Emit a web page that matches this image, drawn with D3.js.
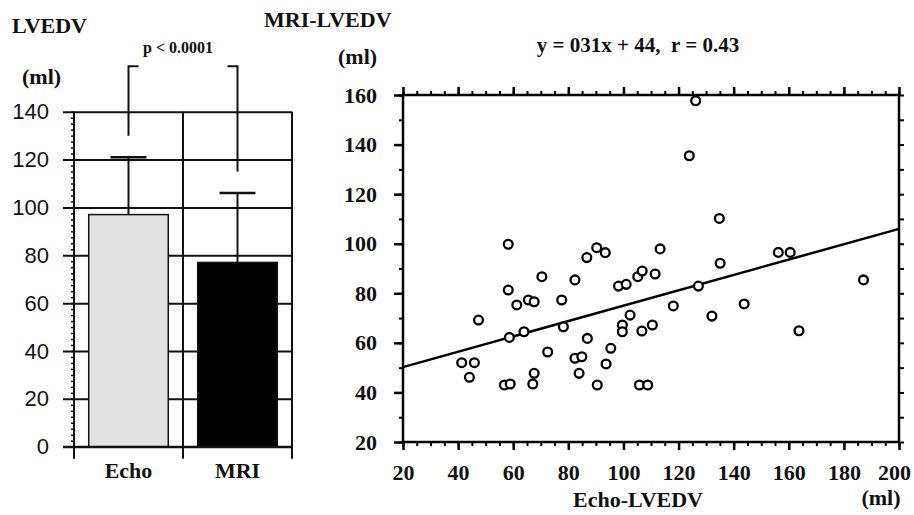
<!DOCTYPE html>
<html>
<head>
<meta charset="utf-8">
<script src="https://cdn.jsdelivr.net/npm/d3@7"></script>
<style>
  body { margin: 0; background: #fff; }
  svg { display: block; }
  .serif { font-family: "Liberation Serif", "Times New Roman", serif; font-weight: bold; fill: #111; }
</style>
</head>
<body>
<div id="vis"></div>
<script>
// left panel: mean +- SD
const groups = ["Echo", "MRI"];
const groupMeans = [97, 77];
const groupSD = [24, 29];
const barTicks = [0, 20, 40, 60, 80, 100, 120, 140];
const bracketTop = 159;
const bracketEnds = [130, 115];

// right panel: one point per patient
const echoLV = [58.2, 58.2, 61.3, 65.5, 67.6, 70.4, 47.4, 58.6, 63.9, 41.3, 45.9, 44.1, 56.8, 58.9,
  67.1, 67.6, 72.5, 77.6, 78.2, 82.4, 86.7, 90.3, 93.4, 82.4, 84.9, 83.9, 86.9, 90.5, 93.7, 95.4,
  98.2, 101.0, 105.2, 106.8, 111.5, 113.3, 99.6, 99.6, 102.4, 106.7, 110.5, 105.8, 108.8, 118.1,
  135.1, 134.8, 127.2, 132.1, 143.8, 156.2, 160.5, 163.7, 187.1, 126.2, 123.9];
const mriLV = [99.8, 81.3, 75.3, 77.3, 76.6, 86.7, 69.2, 62.2, 64.5, 52.0, 52.0, 46.1, 43.0, 43.4,
  43.4, 47.7, 56.3, 77.3, 66.5, 85.4, 94.4, 98.4, 96.4, 53.8, 54.4, 47.7, 61.8, 43.0, 51.5, 57.8,
  82.9, 83.6, 86.7, 89.0, 87.8, 97.9, 67.2, 64.5, 71.2, 64.8, 67.2, 43.0, 43.0, 74.9, 92.1, 110.2,
  82.9, 70.8, 75.7, 96.5, 96.5, 64.9, 85.4, 157.7, 135.5];
const xTicks = [20, 40, 60, 80, 100, 120, 140, 160, 180, 200];
const yTicks = [20, 40, 60, 80, 100, 120, 140, 160];
const fitSlope = 0.31, fitIntercept = 44;

var ink = "#111";
var svg = d3.select("#vis").append("svg").attr("width", 914).attr("height", 515);

// ---------- bar chart ----------
var by = d3.scaleLinear().domain([0, 140]).range([446.7, 111.7]);
var bx = d3.scaleBand().domain(groups).range([74, 292]).paddingInner(0.27).paddingOuter(0.135);

// horizontal grid + labels
var gy = svg.append("g").attr("transform", "translate(63,0)")
  .call(d3.axisLeft(by).tickValues(barTicks).tickSize(-(292 - 63)).tickSizeOuter(0).tickPadding(14));
gy.select(".domain").remove();
gy.selectAll("line").attr("stroke", ink).attr("stroke-width", 2);
gy.selectAll("text").attr("fill", ink)
  .style("font-family", '"Liberation Sans", Arial, sans-serif').style("font-size", "22px");

// minor ticks on the left axis
var gm = svg.append("g").attr("transform", "translate(74,0)")
  .call(d3.axisLeft(by).tickValues(d3.range(0, 141, 2.5)).tickSize(3).tickFormat(""));
gm.select(".domain").remove();
gm.selectAll("line").attr("stroke", ink).attr("stroke-width", 1.5);

// vertical lines at band edges
var edges = d3.range(groups.length + 1).map(i => bx.range()[0] + i * bx.step());
svg.selectAll(".vgrid").data(edges).enter().append("line")
  .attr("x1", d => d).attr("x2", d => d)
  .attr("y1", by(140)).attr("y2", by(0) + 12)
  .attr("stroke", ink).attr("stroke-width", 2);

// error bars, drawn from the top of each bar upward
groups.forEach(function (g, i) {
  var cx = bx(g) + bx.bandwidth() / 2;
  svg.append("line").attr("x1", cx).attr("x2", cx)
    .attr("y1", by(groupMeans[i])).attr("y2", by(groupMeans[i] + groupSD[i]))
    .attr("stroke", ink).attr("stroke-width", 2);
  svg.append("line").attr("x1", cx - 18).attr("x2", cx + 18)
    .attr("y1", by(groupMeans[i] + groupSD[i])).attr("y2", by(groupMeans[i] + groupSD[i]))
    .attr("stroke", ink).attr("stroke-width", 2.5);
});

svg.selectAll(".bar").data(groups).enter().append("rect")
  .attr("x", d => bx(d))
  .attr("width", bx.bandwidth())
  .attr("y", (d, i) => by(groupMeans[i]))
  .attr("height", (d, i) => by(0) - by(groupMeans[i]))
  .attr("fill", (d, i) => i === 0 ? "#e2e2e2" : "#000")
  .attr("stroke", ink).attr("stroke-width", 1.5);

// baseline again over the bars
svg.append("line").attr("x1", 63).attr("x2", 292).attr("y1", by(0)).attr("y2", by(0))
  .attr("stroke", ink).attr("stroke-width", 2);

// significance bracket
groups.forEach(function (g, i) {
  var cx = bx(g) + bx.bandwidth() / 2;
  var dir = i === 0 ? 1 : -1;
  svg.append("path")
    .attr("d", d3.line()([[cx, by(bracketEnds[i])], [cx, by(bracketTop)], [cx + dir * 10, by(bracketTop)]]))
    .attr("fill", "none").attr("stroke", ink).attr("stroke-width", 2);
});

svg.append("text").attr("class", "serif").attr("x", 178).attr("y", 53)
  .attr("text-anchor", "middle").style("font-size", "16px").text("p < 0.0001");

svg.selectAll(".cat").data(groups).enter().append("text")
  .attr("class", "serif")
  .attr("x", d => bx(d) + bx.bandwidth() / 2).attr("y", 478)
  .attr("text-anchor", "middle").style("font-size", "22px").text(d => d);

svg.append("text").attr("class", "serif").attr("x", 12).attr("y", 33).style("font-size", "22px").text("LVEDV");
svg.append("text").attr("class", "serif").attr("x", 22).attr("y", 84).style("font-size", "22px").text("(ml)");

// ---------- scatter ----------
var x = d3.scaleLinear().domain([20, 200]).range([403, 899]);
var y = d3.scaleLinear().domain([20, 160]).range([442, 95]);

function styleAxis(g, w) {
  g.select(".domain").remove();
  g.selectAll("line").attr("stroke", "#000").attr("stroke-width", w);
  return g;
}

// minor ticks
styleAxis(svg.append("g").attr("transform", "translate(0,442)")
  .call(d3.axisBottom(x).tickValues(d3.range(20, 201, 5)).tickSize(4).tickFormat("")), 2);
styleAxis(svg.append("g").attr("transform", "translate(0,95)")
  .call(d3.axisTop(x).tickValues(d3.range(20, 201, 5)).tickSize(4).tickFormat("")), 2);
styleAxis(svg.append("g").attr("transform", "translate(403,0)")
  .call(d3.axisLeft(y).tickValues(d3.range(20, 161, 10)).tickSize(4).tickFormat("")), 2);
styleAxis(svg.append("g").attr("transform", "translate(899,0)")
  .call(d3.axisRight(y).tickValues(d3.range(20, 161, 10)).tickSize(5).tickFormat("")), 2);

// major ticks + labels
var xa = styleAxis(svg.append("g").attr("transform", "translate(0,442)")
  .call(d3.axisBottom(x).tickValues(xTicks).tickSize(8).tickPadding(14)), 2.5);
styleAxis(svg.append("g").attr("transform", "translate(0,95)")
  .call(d3.axisTop(x).tickValues(xTicks).tickSize(8).tickFormat("")), 2.5);
var ya = styleAxis(svg.append("g").attr("transform", "translate(403,0)")
  .call(d3.axisLeft(y).tickValues(yTicks).tickSize(9).tickPadding(17)), 2.5);
[xa, ya].forEach(g => g.selectAll("text").attr("class", "serif").attr("fill", "#111").style("font-size", "22px"));
// last label would run off the page
xa.selectAll("text").filter(d => d === 200).attr("dx", -5);

// frame
svg.append("rect").attr("x", x(20)).attr("y", y(160))
  .attr("width", x(200) - x(20)).attr("height", y(20) - y(160))
  .attr("fill", "none").attr("stroke", "#000").attr("stroke-width", 2.5);

// regression line
svg.append("line")
  .attr("x1", x(20)).attr("y1", y(fitSlope * 20 + fitIntercept))
  .attr("x2", x(200)).attr("y2", y(fitSlope * 200 + fitIntercept))
  .attr("stroke", "#000").attr("stroke-width", 2.5);

svg.selectAll(".pt").data(echoLV).enter().append("circle")
  .attr("cx", d => x(d))
  .attr("cy", (d, i) => y(mriLV[i]))
  .attr("r", 4.4)
  .attr("fill", "#fff").attr("stroke", "#000").attr("stroke-width", 2.3);

svg.append("text").attr("class", "serif").attr("x", 264).attr("y", 27).style("font-size", "22px").text("MRI-LVEDV");
svg.append("text").attr("class", "serif").attr("x", 338).attr("y", 64).style("font-size", "22px").text("(ml)");
svg.append("text").attr("class", "serif").attr("x", 638).attr("y", 52).attr("text-anchor", "middle")
  .style("font-size", "21px").attr("xml:space", "preserve").text("y = 031x + 44,  r = 0.43");
svg.append("text").attr("class", "serif").attr("x", 638).attr("y", 507).attr("text-anchor", "middle")
  .style("font-size", "22px").text("Echo-LVEDV");
svg.append("text").attr("class", "serif").attr("x", 881).attr("y", 505).attr("text-anchor", "middle")
  .style("font-size", "22px").text("(ml)");
</script>
</body>
</html>
